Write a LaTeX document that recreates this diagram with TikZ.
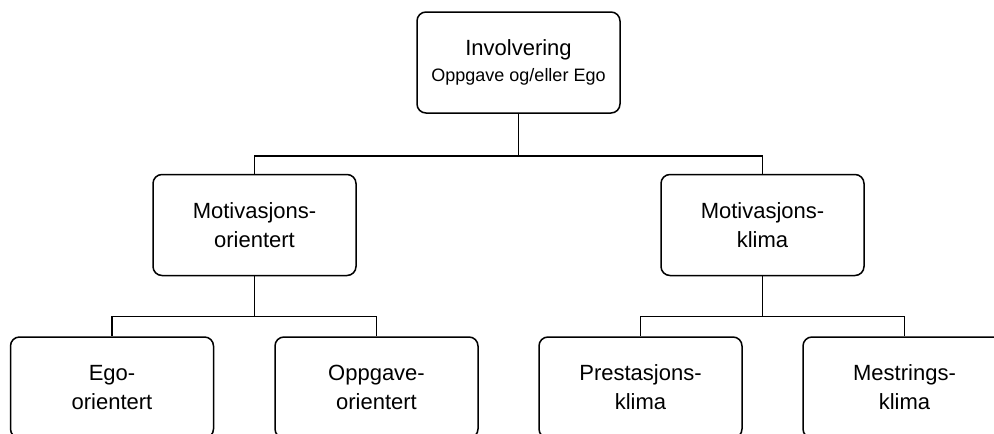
\documentclass[tikz,border=0pt]{standalone}
\usepackage{fontspec}
\setmainfont{Liberation Sans}
\usetikzlibrary{positioning}
\tikzset{
  box/.style={
	draw, % black outline
	line width=1.5pt,
	rounded corners=9pt,
	minimum width=203pt, minimum height=101pt,
	align=center, inner sep=0pt,
	font=\fontsize{22}{29}\selectfont,
  },
  link/.style={line width=1.5pt}, % tree connectors
}

\begin{document}
\begin{tikzpicture}[x=1pt, y=1pt]
\useasboundingbox (0,0) rectangle (994,-434);
\clip (0,0) rectangle (994,-434);
\node[box] (inv) at (518.5,-62.5) {Involvering\\[-3pt]{\fontsize{18}{22}\selectfont Oppgave og/eller Ego}};
\node[box] (mo) at (254.5,-225) {Motivasjons-\\orientert};
\node[box] (mk) at (762.5,-225) {Motivasjons-\\klima};
\node[box] (ego) at (112,-387.5) {Ego-\\orientert};
\node[box] (opp) at (376.5,-387.5) {Oppgave-\\orientert};
\node[box] (pre) at (640.5,-387.5) {Prestasjons-\\klima};
\node[box] (mes) at (904.5,-387.5) {Mestrings-\\klima};

\draw[link] (inv.south) -- ++(0,-42) -| (mo.north);
\draw[link] (inv.south) -- ++(0,-42) -| (mk.north);
\draw[link] (mo.south) -- ++(0,-40) -| (ego.north);
\draw[link] (mo.south) -- ++(0,-40) -| (opp.north);
\draw[link] (mk.south) -- ++(0,-40) -| (pre.north);
\draw[link] (mk.south) -- ++(0,-40) -| (mes.north);
\end{tikzpicture}
\end{document}
